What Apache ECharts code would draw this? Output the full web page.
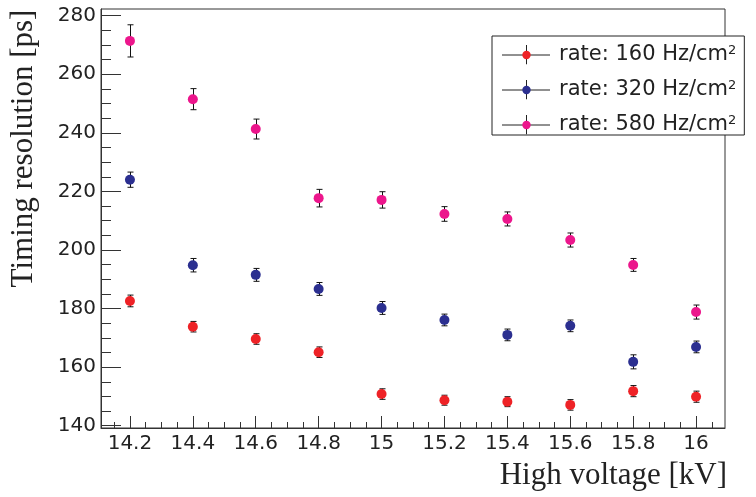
<!DOCTYPE html>
<html><head><meta charset="utf-8">
<script src="https://cdn.jsdelivr.net/npm/echarts@6/dist/echarts.min.js"></script>
<style>html,body{margin:0;padding:0;background:#fff}#c{width:756px;height:497px}</style>
</head><body><div id="c"></div>
<script>
const voltages = [14.2, 14.4, 14.6, 14.8, 15, 15.2, 15.4, 15.6, 15.8, 16];
const res160 = [182.6, 173.8, 169.6, 165.1, 150.8, 148.7, 148.2, 147.1, 151.8, 149.9];
const err160 = [2.0, 1.8, 1.8, 1.8, 1.8, 1.7, 1.7, 1.8, 1.9, 1.9];
const res320 = [224.0, 194.8, 191.5, 186.7, 180.2, 176.1, 171.0, 174.1, 161.8, 166.9];
const err320 = [2.6, 2.3, 2.2, 2.2, 2.2, 2.0, 2.0, 2.0, 2.4, 2.0];
const res580 = [271.4, 251.5, 241.3, 217.7, 217.1, 212.3, 210.6, 203.4, 194.9, 178.8];
const err580 = [5.5, 3.6, 3.4, 3.0, 2.8, 2.5, 2.4, 2.4, 2.2, 2.4];
const seriesNames = ['rate: 160 Hz/cm²', 'rate: 320 Hz/cm²', 'rate: 580 Hz/cm²'];
const seriesColors = ['#ee2226', '#2b2f90', '#ec168c'];
const xTicks = [14.2, 14.4, 14.6, 14.8, 15, 15.2, 15.4, 15.6, 15.8, 16];
const yTicks = [140, 160, 180, 200, 220, 240, 260, 280];

const xMinorTicks = [];
for (let k = 283; k <= 321; k++) xMinorTicks.push(+(k * 0.05).toFixed(2));
const yMinorTicks = [];
for (let k = 28; k <= 56; k++) yMinorTicks.push(k * 5);

const allRes = [res160, res320, res580];
const allErr = [err160, err320, err580];

function legendIcon(color) {
  const svg = '<svg xmlns="http://www.w3.org/2000/svg" width="48" height="20" viewBox="0 0 48 20">' +
    '<path d="M0 10.5H48M24.5 0V20" stroke="#222" stroke-width="1" fill="none"/>' +
    '<circle cx="24.5" cy="10.5" r="4.2" fill="' + color + '"/></svg>';
  return 'image://data:image/svg+xml;charset=utf-8,' + encodeURIComponent(svg);
}

const chart = echarts.init(document.getElementById('c'), null, {renderer: 'canvas'});
const axisColor = '#333';
const labelFont = 'DejaVu Sans';
const titleFont = 'Liberation Serif';

const series = [];
allRes.forEach((res, i) => {
  series.push({
    name: seriesNames[i] + ' err',
    type: 'custom',
    xAxisIndex: 0, yAxisIndex: 0,
    z: 2,
    data: voltages.map((v, j) => [v, res[j], allErr[i][j]]),
    renderItem: function (params, api) {
      const x = api.value(0), y = api.value(1), e = api.value(2);
      const top = api.coord([x, y + e]);
      const bot = api.coord([x, y - e]);
      const cx = Math.round(top[0]) + 0.5;
      const st = {stroke: '#111', lineWidth: 1};
      return {
        type: 'group',
        children: [
          {type: 'line', shape: {x1: cx, y1: top[1], x2: cx, y2: bot[1]}, style: st},
          {type: 'line', shape: {x1: cx - 3, y1: top[1], x2: cx + 3, y2: top[1]}, style: st},
          {type: 'line', shape: {x1: cx - 3, y1: bot[1], x2: cx + 3, y2: bot[1]}, style: st}
        ]
      };
    }
  });
});
allRes.forEach((res, i) => {
  series.push({
    name: seriesNames[i],
    type: 'scatter',
    xAxisIndex: 0, yAxisIndex: 0,
    z: 3,
    symbol: 'circle',
    symbolSize: 10,
    itemStyle: {color: seriesColors[i], opacity: 1},
    data: voltages.map((v, j) => [v, res[j]])
  });
});

const option = {
  backgroundColor: '#fff',
  animation: false,
  grid: {left: 101, right: 31, top: 9, bottom: 69, show: true, borderColor: axisColor, borderWidth: 1, backgroundColor: 'transparent'},
  legend: {
    orient: 'vertical',
    left: 492, top: 36,
    itemWidth: 48, itemHeight: 20, itemGap: 14,
    padding: [8, 8, 0, 10],
    borderColor: '#222', borderWidth: 1, backgroundColor: '#fff',
    selectedMode: false,
    z: 10,
    data: seriesNames.map((n, i) => ({name: n, icon: legendIcon(seriesColors[i]), itemStyle: {opacity: 1}})),
    formatter: function (name) {
      return '{n|' + name.replace('²', '') + '}{s|2}';
    },
    textStyle: {
      padding: [0, 0, 0, 4],
      rich: {
        n: {fontFamily: labelFont, fontSize: 21, color: '#222', lineHeight: 20},
        s: {fontFamily: labelFont, fontSize: 13, color: '#222', lineHeight: 10, verticalAlign: 'top'}
      }
    }
  },
  xAxis: [{
    type: 'value', min: 14.108, max: 16.092, position: 'bottom',
    name: 'High voltage [kV]', nameLocation: 'end', nameGap: 2,
    nameTextStyle: {fontFamily: titleFont, fontSize: 31, color: '#222', align: 'right', verticalAlign: 'top', padding: [32, 0, 0, 0]},
    axisLine: {show: true, lineStyle: {color: axisColor, width: 1}},
    axisTick: {show: true, inside: true, length: 12, customValues: xTicks, lineStyle: {color: axisColor}},
    axisLabel: {show: true, customValues: xTicks, margin: 6, fontFamily: labelFont, fontSize: 20, color: '#222',
      formatter: v => String(+(+v).toFixed(1))},
    splitLine: {show: false}
  }, {
    type: 'value', min: 14.108, max: 16.092, position: 'bottom', offset: 0,
    axisLine: {show: false},
    axisTick: {show: true, inside: true, length: 6, customValues: xMinorTicks, lineStyle: {color: axisColor}},
    axisLabel: {show: false},
    splitLine: {show: false}
  }],
  yAxis: [{
    type: 'value', min: 139.21, max: 282.29, position: 'left',
    name: 'Timing resolution [ps]', nameLocation: 'middle', nameGap: 62, nameRotate: 90,
    nameTextStyle: {fontFamily: titleFont, fontSize: 31, color: '#222', padding: [0, 0, 0, 140]},
    axisLine: {show: true, lineStyle: {color: axisColor, width: 1}},
    axisTick: {show: true, inside: true, length: 20, customValues: yTicks, lineStyle: {color: axisColor}},
    axisLabel: {show: true, customValues: yTicks, margin: 5, fontFamily: labelFont, fontSize: 20, color: '#222'},
    splitLine: {show: false}
  }, {
    type: 'value', min: 139.21, max: 282.29, position: 'left', offset: 0,
    axisLine: {show: false},
    axisTick: {show: true, inside: true, length: 10, customValues: yMinorTicks, lineStyle: {color: axisColor}},
    axisLabel: {show: false},
    splitLine: {show: false}
  }],
  series: series
};
chart.setOption(option);
</script>
</body></html>
